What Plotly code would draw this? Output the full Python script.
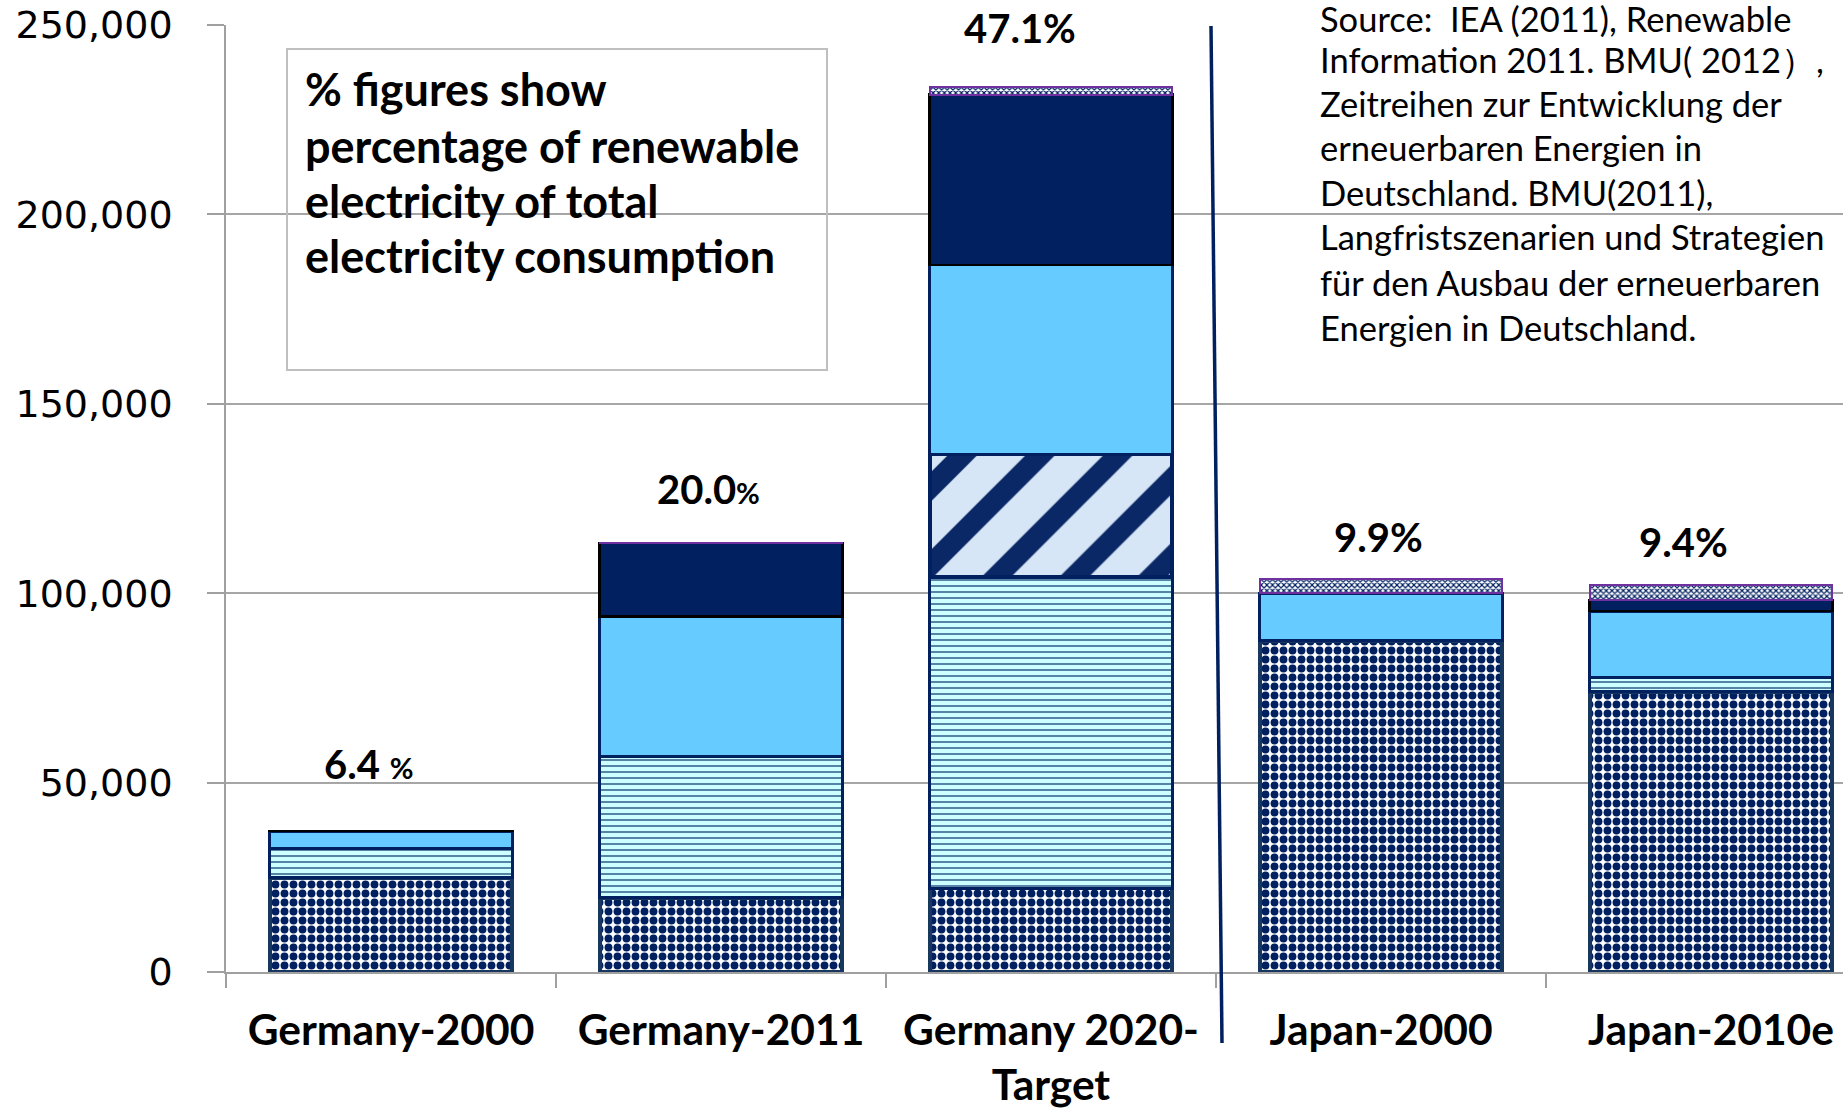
import plotly.graph_objects as go

# ---------------- data (GWh) ----------------
categories = ["Germany-2000", "Germany-2011", "Germany 2020-<br>Target", "Japan-2000", "Japan-2010e"]
hydro = [24900, 19600, 22100, 87400, 74000]
wind_onshore = [7600, 37400, 82100, None, 3800]
wind_offshore = [None, None, 32500, None, None]
biomass = [4700, 36800, 50000, 12600, 17500]
solar_pv = [60, 19400, 44900, None, 2900]
geothermal = [None, 150, 2000, 3800, 4000]
renewable_share = [6.4, 20.0, 47.1, 9.9, 9.4]
y_ticks = [0, 50000, 100000, 150000, 200000, 250000]

source_lines = [
    "Source:\u00a0\u00a0IEA (2011), Renewable",
    "Information 2011. BMU( 2012\uff09,",
    "Zeitreihen zur Entwicklung der",
    "erneuerbaren Energien in",
    "Deutschland. BMU(2011),",
    "Langfristszenarien und Strategien",
    "für den Ausbau der erneuerbaren",
    "Energien in Deutschland.",
]
box_lines = [
    "% figures show",
    "percentage of renewable",
    "electricity of total",
    "electricity consumption",
]

# ---------------- geometry helpers (pixel coords) ----------------
W, H = 1843, 1110
L, R, T, B = 226, 1843, 25, 972  # plot area in pixels


def px_x(px):
    return (px - L) / (R - L)


def px_y(py):
    return (B - py) / (B - T)


NAVY = "#002060"
fig = go.Figure()

fig.add_trace(go.Bar(
    x=categories, y=hydro, name="Hydro",
    marker=dict(color="white",
                pattern=dict(shape=".", fgcolor=NAVY, bgcolor="white", size=9,
                             solidity=0.6, fgopacity=1),
                line=dict(color="#17375E", width=4)),
))
fig.add_trace(go.Bar(
    x=categories, y=wind_onshore, name="Wind onshore",
    marker=dict(color="#CCFFFF",
                pattern=dict(shape="-", fgcolor="#2F5A88", bgcolor="#CCFFFF", size=6,
                             solidity=0.25, fgopacity=1),
                line=dict(color=NAVY, width=3)),
))
fig.add_trace(go.Bar(
    x=categories, y=wind_offshore, name="Wind offshore",
    marker=dict(color="#DCE8F5",
                pattern=dict(shape="/", fgcolor="#0A2766", bgcolor="#D6E6F6", size=55,
                             solidity=0.38, fgopacity=1),
                line=dict(color=NAVY, width=4)),
))
fig.add_trace(go.Bar(
    x=categories, y=biomass, name="Biomass",
    marker=dict(color="#66CCFF", line=dict(color=NAVY, width=3)),
))
fig.add_trace(go.Bar(
    x=categories, y=solar_pv, name="Solar PV",
    marker=dict(color=NAVY, line=dict(color="black", width=2.5)),
))
fig.add_trace(go.Bar(
    x=categories, y=geothermal, name="Geothermal",
    marker=dict(color="white",
                pattern=dict(shape="x", fgcolor=NAVY, bgcolor="white", size=4,
                             solidity=0.5, fgopacity=1),
                line=dict(color="#7030A0", width=2)),
))

# ---------------- percentage labels above bars ----------------
totals = []
for i in range(len(categories)):
    s = 0
    for series in (hydro, wind_onshore, wind_offshore, biomass, solar_pv, geothermal):
        if series[i] is not None:
            s += series[i]
    totals.append(s)

label_yshift = [67, 54, 59, 42, 43]
label_xshift = [-23, -13, -31, -3, -28]
small_pct = [True, True, False, False, False]
pct_space = [True, False, False, False, False]
for i, cat in enumerate(categories):
    pct = "<span style='font-size:29px'>%</span>" if small_pct[i] else "%"
    txt = f"<b>{renewable_share[i]:.1f}{' ' if pct_space[i] else ''}{pct}</b>"
    fig.add_annotation(x=cat, y=totals[i], xref="x", yref="y", text=txt, showarrow=False,
                       yanchor="middle", xanchor="center", yshift=label_yshift[i],
                       xshift=label_xshift[i],
                       font=dict(family="Lato", size=40, color="black"))

# ---------------- text box ----------------
fig.add_shape(type="rect", xref="paper", yref="paper",
              x0=px_x(287), x1=px_x(827), y0=px_y(49), y1=px_y(370),
              line=dict(color="#BFBFBF", width=2), fillcolor="rgba(0,0,0,0)", layer="above")
box_centers = [89, 146, 201, 256]
for ln, yc in zip(box_lines, box_centers):
    fig.add_annotation(xref="paper", yref="paper", x=px_x(303), y=px_y(yc),
                       xanchor="left", yanchor="middle", align="left", showarrow=False,
                       text="<b>" + ln + "</b>",
                       font=dict(family="Lato", size=45, color="black"))

# ---------------- source text ----------------
line_centers = [19, 60, 104, 148, 193, 237, 282, 327]
for ln, yc in zip(source_lines, line_centers):
    fig.add_annotation(xref="paper", yref="paper", x=px_x(1318), y=px_y(yc),
                       xanchor="left", yanchor="middle", showarrow=False, text=ln,
                       font=dict(family="Lato", size=34.5, color="black"))

# ---------------- separator line ----------------
fig.add_shape(type="line", xref="paper", yref="paper",
              x0=px_x(1211), y0=px_y(26), x1=px_x(1222), y1=px_y(1043),
              line=dict(color=NAVY, width=3.5), layer="above")

fig.update_layout(
    width=W, height=H,
    margin=dict(l=L, r=W - R, t=T, b=H - B, pad=0),
    barmode="stack", bargap=0.264,
    plot_bgcolor="white", paper_bgcolor="white",
    showlegend=False,
    font=dict(family="Lato", color="black"),
)
fig.update_xaxes(
    type="category", range=[-0.5, 4.4],
    showline=True, linecolor="#A0A0A0", linewidth=1.5,
    ticks="outside", tickson="boundaries", ticklen=14, tickcolor="#A0A0A0", tickwidth=1.5,
    tickfont=dict(family="Lato", size=42.5, color="black", weight="bold"),
    ticklabelstandoff=20,
    showgrid=False,
)
fig.update_yaxes(
    range=[0, 250000], tickvals=y_ticks, tickformat=",",
    showgrid=True, gridcolor="#A6A6A6", gridwidth=1.5,
    showline=True, linecolor="#A0A0A0", linewidth=1.5,
    ticks="outside", ticklen=17, tickcolor="#A0A0A0", tickwidth=1.5,
    tickfont=dict(family="DejaVu Sans", size=38, color="black"),
    ticklabelstandoff=27, ticklabeloverflow="allow",
    zeroline=False,
)

fig.write_html("out.html",
               config={"displayModeBar": False},
               post_script="document.body.style.margin='0';document.body.style.padding='0';")
